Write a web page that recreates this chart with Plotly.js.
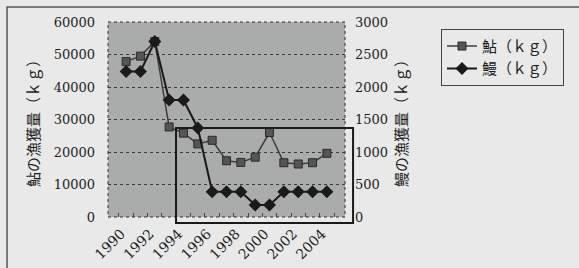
<!DOCTYPE html>
<html>
<head>
<meta charset="utf-8">
<script src="https://cdn.plot.ly/plotly-3.0.1.min.js"></script>
<style>html,body{margin:0;padding:0;background:#e9e9e9;}#chart{width:579px;height:268px;}</style>
</head>
<body>
<div id="chart"></div>
<script>
const years = ['1990','1991','1992','1993','1994','1995','1996','1997','1998','1999','2000','2001','2002','2003','2004'];
const tickLabels = ['1990','','1992','','1994','','1996','','1998','','2000','','2002','','2004'];
const ayu = [47800, 49500, 54000, 27700, 25800, 22500, 23600, 17300, 16800, 18400, 26000, 16700, 16300, 16700, 19600];
const eel = [2240, 2240, 2700, 1800, 1800, 1370, 390, 390, 390, 185, 185, 390, 390, 390, 390];
const ayuName = '鮎（ｋｇ）';
const eelName = '鰻（ｋｇ）';
const leftTitle = '鮎の漁獲量（ｋｇ）';
const rightTitle = '鰻の漁獲量（ｋｇ）';

const numFont = {family: 'DejaVu Serif, serif', size: 13, color: '#1e1e1e'};
const xFont = {family: 'DejaVu Serif, serif', size: 14, color: '#1e1e1e'};
const cjkFont = {family: 'Noto Sans CJK JP, sans-serif', size: 15, color: '#1e1e1e'};
const titleFont = {family: 'Noto Sans CJK JP, sans-serif', size: 15, color: '#1e1e1e'};

const traces = [
  {x: years, y: ayu, name: ayuName, type: 'scatter', mode: 'lines+markers',
   line: {color: '#3c3c3c', width: 1.5},
   marker: {symbol: 'square', size: 8, color: '#555', line: {color: '#2a2a2a', width: 1}}},
  {x: years, y: eel, name: eelName, type: 'scatter', mode: 'lines+markers', yaxis: 'y2',
   line: {color: '#1a1a1a', width: 2},
   marker: {symbol: 'diamond', size: 10, color: '#1a1a1a'}}
];

const layout = {
  width: 579, height: 268,
  margin: {l: 108, r: 234, t: 22, b: 51},
  paper_bgcolor: '#e9e9e9', plot_bgcolor: '#a9acaa',
  showlegend: true,
  legend: {x: 1.405, y: 0.965, xanchor: 'left', yanchor: 'top', bgcolor: 'rgba(0,0,0,0)',
           bordercolor: '#444', borderwidth: 1, font: cjkFont, tracegroupgap: 2,
           entrywidth: 98, itemwidth: 30},
  xaxis: {type: 'category', tickvals: years, ticktext: tickLabels, tickangle: -45,
          ticks: 'inside', tickson: 'boundaries', ticklen: 4, tickcolor: '#444',
          ticklabelstandoff: 5, ticklabelshift: -5, tickfont: xFont, showgrid: false, zeroline: false,
          showline: false, fixedrange: true},
  yaxis: {range: [0, 60000], dtick: 10000, tickformat: 'd', tickfont: numFont, showgrid: true,
          gridcolor: '#3a3a3a', griddash: 'dot', gridwidth: 1, zeroline: false,
          ticks: '', ticklabelstandoff: 12,
          title: {text: leftTitle, font: titleFont, standoff: 10}},
  yaxis2: {range: [0, 3000], dtick: 500, tickformat: 'd', overlaying: 'y', side: 'right', tickfont: numFont,
           showgrid: false, zeroline: false, ticks: '', ticklabelstandoff: 9,
           title: {text: rightTitle, font: titleFont, standoff: 9}},
  shapes: [
    {type: 'rect', xref: 'paper', yref: 'paper', x0: 0, x1: 1, y0: 0, y1: 1,
     line: {color: '#333', width: 1, dash: 'dot'}},
    {type: 'rect', xref: 'paper', yref: 'paper', x0: 0.287, x1: 1.034, y0: -0.031, y1: 0.456,
     line: {color: '#1a1a1a', width: 2}},
    {type: 'rect', xref: 'paper', yref: 'paper', x0: -0.426, x1: 2, y0: -1, y1: 1.077,
     line: {color: '#555', width: 1.5}}
  ]
};

Plotly.newPlot('chart', traces, layout, {displayModeBar: false, staticPlot: true});
</script>
</body>
</html>
